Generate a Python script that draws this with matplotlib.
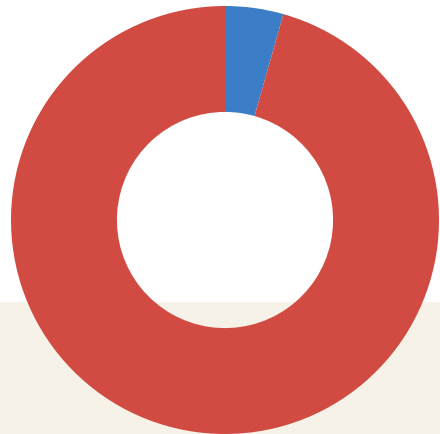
import matplotlib
matplotlib.use("Agg")
import matplotlib.pyplot as plt
from matplotlib.patches import Rectangle

labels = ["Blue share", "Red share"]
values = [4.4, 95.6]
colors = ["#3b7dc6", "#d14b42"]

W, H, DPI = 440, 435, 100
fig = plt.figure(figsize=(W / DPI, H / DPI), dpi=DPI)
fig.patch.set_facecolor("white")

# background: beige lower band, drawn in its own axes under the donut
bg = fig.add_axes([0, 0, 1, 1], zorder=0)
bg.set_xlim(0, 1)
bg.set_ylim(0, 1)
bg.add_patch(Rectangle((0, 0), 1, (435 - 303) / H, facecolor="#f6f2e7", edgecolor="none"))
bg.axis("off")

cx, cy, r = 225, 221, 214   # centre and outer radius in pixels
ax = fig.add_axes([(cx - r) / W, (H - cy - r) / H, 2 * r / W, 2 * r / H], zorder=1)
ax.set_facecolor("none")
ax.pie(values, colors=colors, startangle=90, counterclock=False, radius=1,
       wedgeprops=dict(width=0.495, edgecolor="none"))
ax.set_xlim(-1, 1)
ax.set_ylim(-1, 1)
ax.set_aspect("equal")
ax.axis("off")

fig.savefig("out.png", dpi=DPI)
